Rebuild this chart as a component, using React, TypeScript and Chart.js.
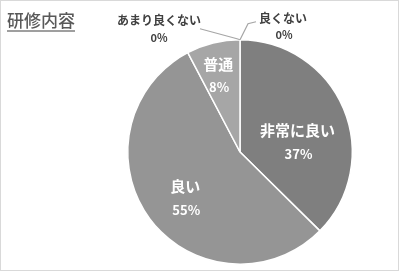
import React, { useEffect, useRef } from "react";
import { Chart, registerables } from "chart.js";

Chart.register(...registerables);

const title = "研修内容";
const categories = ["非常に良い", "良い", "普通", "あまり良くない", "良くない"];
const values = [37.4, 54.9, 7.7, 0, 0];
const sliceColors = ["#7f7f7f", "#959595", "#a6a6a6", "#bcbcbc", "#cfcfcf"];

const JP = '"Noto Sans CJK JP", "Noto Sans", sans-serif';

// label placement (style): angle offset (rad) and radius fraction for inner labels
const innerPlacement = [
  { da: 0.225, rf: 0.52 },
  { da: -0.058, rf: 0.635 },
  { da: -0.035, rf: 0.71 },
];
// outer labels for zero slices: leader points and text offsets relative to anchor
const outerPlacement: Record<number, { pts: [number, number][]; name: [number, number]; pct: [number, number] }> = {
  3: { pts: [[-3, -1], [-40, -11]], name: [-81, -19], pct: [-81, -2] },
  4: { pts: [[8, -16], [16, -18]], name: [43, -21], pct: [44, -5] },
};

const labelPlugin = {
  id: "customLabels",
  afterDraw(chart: any) {
    const ctx = chart.ctx as CanvasRenderingContext2D;
    const meta = chart.getDatasetMeta(0);
    const data = chart.data.datasets[0].data as number[];
    const total = data.reduce((a, b) => a + b, 0);
    ctx.save();
    // frame
    ctx.strokeStyle = "#d9d9d9";
    ctx.lineWidth = 1;
    ctx.strokeRect(0.5, 0.5, 398, 270);
    // title
    ctx.fillStyle = "#595959";
    ctx.font = `500 17px ${JP}`;
    ctx.textAlign = "left";
    ctx.textBaseline = "middle";
    ctx.fillText(title, 7, 21);
    const tw = ctx.measureText(title).width;
    ctx.strokeStyle = "#7f7f7f";
    ctx.lineWidth = 1.5;
    ctx.beginPath();
    ctx.moveTo(7, 31);
    ctx.lineTo(7 + tw, 31);
    ctx.stroke();

    ctx.textAlign = "center";
    meta.data.forEach((arc: any, i: number) => {
      const { x, y, startAngle, endAngle, outerRadius } = arc.getProps(
        ["x", "y", "startAngle", "endAngle", "outerRadius"],
        true
      );
      const pct = Math.round((data[i] / total) * 100) + "%";
      if (data[i] > 0) {
        const p = innerPlacement[i] || { da: 0, rf: 0.6 };
        const mid = (startAngle + endAngle) / 2 + p.da;
        const r = outerRadius * p.rf;
        const cx = x + Math.cos(mid) * r;
        const cy = y + Math.sin(mid) * r;
        ctx.fillStyle = "#ffffff";
        ctx.font = `bold 15px ${JP}`;
        ctx.fillText(categories[i], cx, cy - 11.5);
        ctx.font = `bold 13px ${JP}`;
        ctx.fillText(pct, cx + 1, cy + 12);
      } else {
        const p = outerPlacement[i];
        if (!p) return;
        const ax = x + Math.cos(startAngle) * outerRadius;
        const ay = y + Math.sin(startAngle) * outerRadius;
        ctx.strokeStyle = "#a6a6a6";
        ctx.lineWidth = 1.2;
        ctx.beginPath();
        ctx.moveTo(ax, ay);
        p.pts.forEach(([dx, dy]) => ctx.lineTo(ax + dx, ay + dy));
        ctx.stroke();
        ctx.fillStyle = "#404040";
        ctx.font = `bold 12px ${JP}`;
        ctx.fillText(categories[i], ax + p.name[0], ay + p.name[1]);
        ctx.font = `bold 11px ${JP}`;
        ctx.fillText(pct, ax + p.pct[0], ay + p.pct[1]);
      }
    });
    ctx.restore();
  },
};

export default function App() {
  const ref = useRef<HTMLCanvasElement>(null);
  useEffect(() => {
    document.body.style.margin = "0";
    const chart = new Chart(ref.current!, {
      type: "pie",
      data: {
        labels: categories,
        datasets: [
          {
            data: values,
            backgroundColor: sliceColors,
            borderColor: "#ffffff",
            borderWidth: 1.5,
          },
        ],
      },
      options: {
        animation: false,
        responsive: false,
        layout: { padding: { left: 127, right: 47, top: 38, bottom: 6 } },
        plugins: {
          legend: { display: false },
          title: { display: false },
          tooltip: { enabled: false },
        },
      },
      plugins: [labelPlugin],
    });
    return () => chart.destroy();
  }, []);
  return (
    <div style={{ width: 400, height: 272, background: "#fff" }}>
      <canvas ref={ref} width={400} height={272} />
    </div>
  );
}
